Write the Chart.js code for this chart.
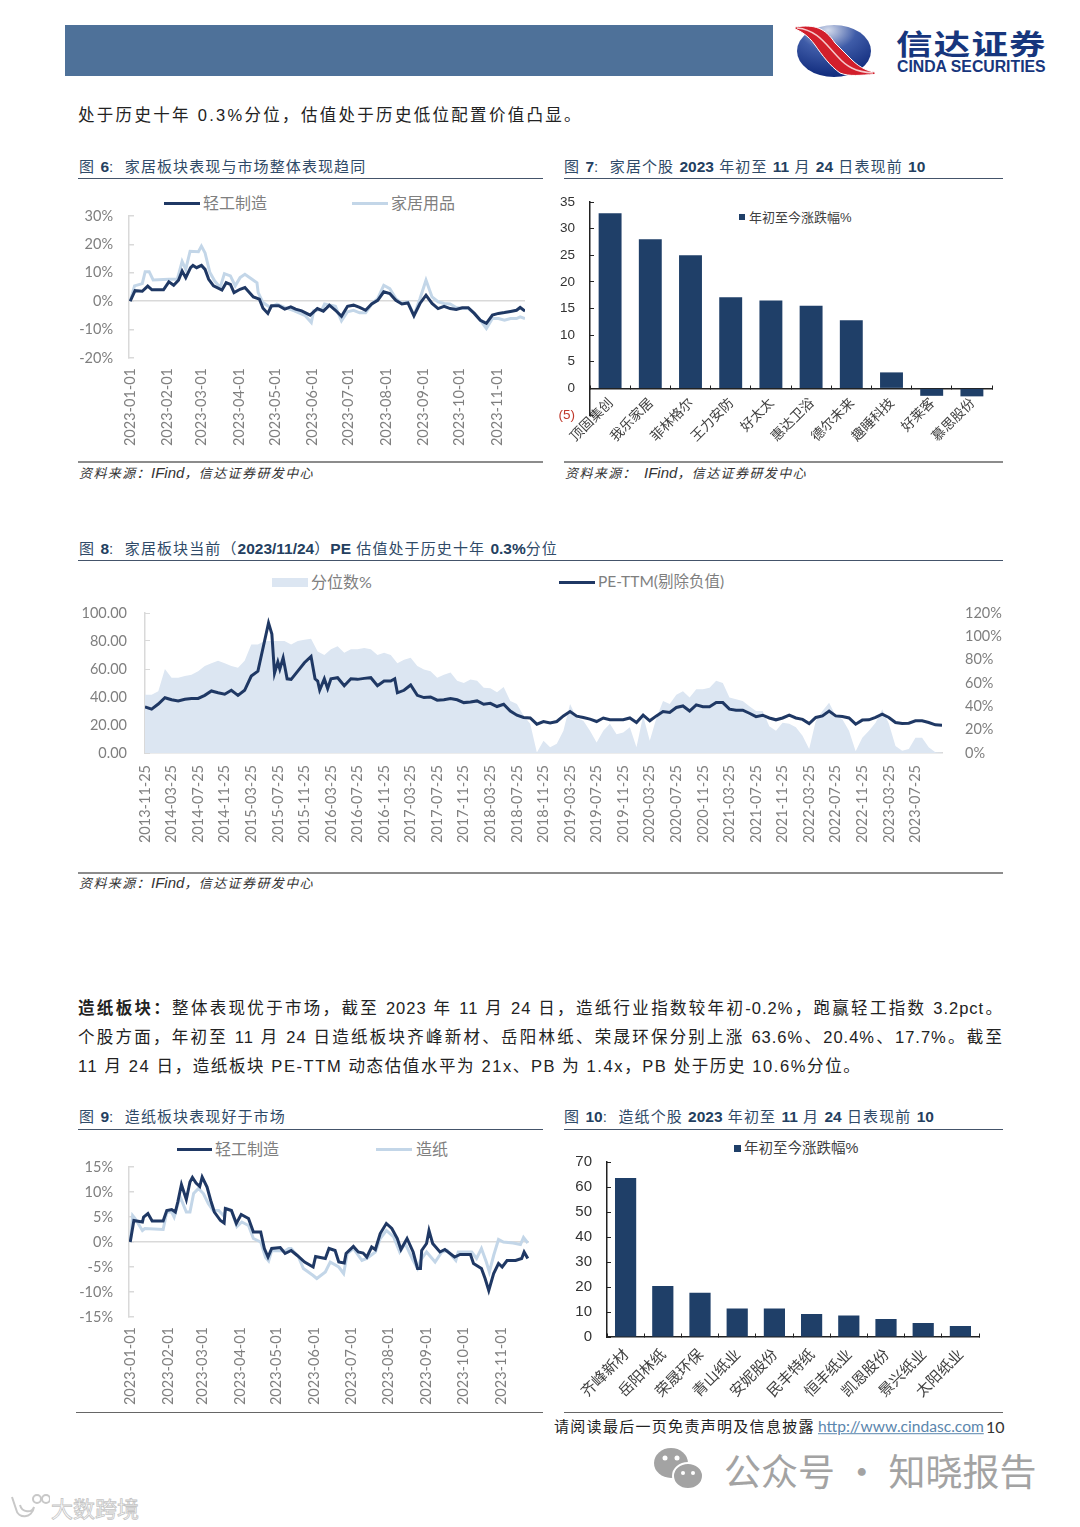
<!DOCTYPE html>
<html>
<head>
<meta charset="utf-8">
<script src="https://cdn.jsdelivr.net/npm/chart.js@4/dist/chart.umd.min.js"></script>
<style>
  html, body { margin: 0; padding: 0; background: #fff; }
  #page { position: relative; width: 1080px; height: 1527px; overflow: hidden; font-family: "Liberation Sans", "Noto Sans CJK SC", sans-serif; }
  canvas { position: absolute; }
  .t { position: absolute; white-space: nowrap; line-height: 1; transform: translateY(-50%); }
  .title { font-size: 15px; letter-spacing: 1.1px; color: #2f4a68; }
  .title b { font-size: 15.5px; letter-spacing: 0; color: #243f60; }
  .src { font-size: 13px; letter-spacing: 1.4px; font-style: italic; color: #333; }
  .src span { font-size: 15px; letter-spacing: 0; }
  .body { font-size: 16.5px; letter-spacing: 2.3px; color: #222; }
  .just { width: 925px; white-space: normal; text-align: justify; text-align-last: justify; letter-spacing: 1px; }
  .leg { font-family: "Lato", "Noto Sans CJK SC", sans-serif; font-size: 16px; color: #7f7f7f; }
  .legb { font-size: 13px; color: #404040; }
  .r { position: absolute; }
</style>
</head>
<body>
<div id="page">
  <div class="r" style="left:65px;top:25px;width:708px;height:51px;background:#4e7199"></div>
  <svg class="r" style="left:790px;top:20px" width="90" height="62" viewBox="790 20 90 62">
    <defs>
      <radialGradient id="logoBlue" cx="0.42" cy="0.1" r="0.85">
        <stop offset="0" stop-color="#d5dcec"/>
        <stop offset="0.45" stop-color="#3f5ca8"/>
        <stop offset="1" stop-color="#142f80"/>
      </radialGradient>
    </defs>
    <ellipse cx="834" cy="51" rx="37" ry="26" fill="url(#logoBlue)"/>
    <path d="M795 27 C815 24 825 28 835 43 L852 60 C860 68 870 72 875 72 L875 74.5 C860 75 850 77 840 73 C830 66 822 55 815 45 C808 35 800 31 795 29 Z" fill="#d21f2c" stroke="#fff" stroke-width="1"/>
    <path d="M797 28 C818 30 826 45 838 57 C846 66 855 72 873 73" fill="none" stroke="#f6c9cb" stroke-width="1.5"/>
  </svg>
  <div class="t" style="left:896px;top:46px;font-size:28px;font-weight:700;color:#17367d;letter-spacing:1px;transform:translateY(-50%) scaleX(1.3);transform-origin:left center">信达证券</div>
  <div class="t" style="left:897px;top:66.5px;font-size:15.8px;font-weight:700;color:#17367d">CINDA SECURITIES</div>

  <div class="t body" style="left:78px;top:115px">处于历史十年 0.3%分位&#xFF0C;估值处于历史低位配置价值凸显。</div>

  <div class="t title" style="left:79px;top:167px">图 <b>6</b>:&nbsp; 家居板块表现与市场整体表现趋同</div>
  <div class="r" style="left:78px;top:178px;width:465px;height:1px;background:#44546a"></div>
  <div class="r" style="left:164px;top:202px;width:36px;height:3px;background:#1f3864"></div>
  <div class="t leg" style="left:203px;top:203px">轻工制造</div>
  <div class="r" style="left:352px;top:202px;width:36px;height:3px;background:#c3d6e8"></div>
  <div class="t leg" style="left:391px;top:203px">家居用品</div>
  <div class="r" style="left:78px;top:461px;width:465px;height:2px;background:#8c8c8c"></div>
  <div class="t src" style="left:79px;top:472px">资料来源&#xFF1A;<span>IFind</span>&#xFF0C;信达证券研发中心</div>

  <div class="t title" style="left:564px;top:167px">图 <b>7</b>:&nbsp; 家居个股 <b>2023</b> 年初至 <b>11</b> 月 <b>24</b> 日表现前 <b>10</b></div>
  <div class="r" style="left:564px;top:178px;width:439px;height:1px;background:#44546a"></div>
  <div class="r" style="left:739px;top:214px;width:6px;height:6px;background:#1f3f68"></div>
  <div class="t legb" style="left:749px;top:217px">年初至今涨跌幅%</div>
  <div class="r" style="left:564px;top:461px;width:439px;height:2px;background:#8c8c8c"></div>
  <div class="t src" style="left:565px;top:472px">资料来源&#xFF1A;<span style="margin-left:7px">IFind</span>&#xFF0C;信达证券研发中心</div>

  <div class="t title" style="left:79px;top:549px">图 <b>8</b>:&nbsp; 家居板块当前&#xFF08;<b>2023/11/24</b>&#xFF09;<b>PE</b> 估值处于历史十年 <b>0.3%</b>分位</div>
  <div class="r" style="left:78px;top:560px;width:925px;height:1px;background:#44546a"></div>
  <div class="r" style="left:272px;top:578px;width:36px;height:9px;background:#dce6f2"></div>
  <div class="t leg" style="left:311px;top:582px">分位数%</div>
  <div class="r" style="left:559px;top:581px;width:36px;height:3px;background:#1f3864"></div>
  <div class="t leg" style="left:598px;top:582px;font-size:15.5px">PE-TTM(剔除负值)</div>
  <div class="r" style="left:78px;top:872px;width:925px;height:2px;background:#8c8c8c"></div>
  <div class="t src" style="left:79px;top:882px">资料来源&#xFF1A;<span>IFind</span>&#xFF0C;信达证券研发中心</div>

  <div class="t body just" style="left:78px;top:1008px"><b>造纸板块&#xFF1A;</b>整体表现优于市场&#xFF0C;截至 2023 年 11 月 24 日&#xFF0C;造纸行业指数较年初-0.2%&#xFF0C;跑赢轻工指数 3.2pct。</div>
  <div class="t body just" style="left:78px;top:1037px">个股方面&#xFF0C;年初至 11 月 24 日造纸板块齐峰新材、岳阳林纸、荣晟环保分别上涨 63.6%、20.4%、17.7%。截至</div>
  <div class="t body" style="left:78px;top:1066px;letter-spacing:1.6px">11 月 24 日&#xFF0C;造纸板块 PE-TTM 动态估值水平为 21x、PB 为 1.4x&#xFF0C;PB 处于历史 10.6%分位。</div>

  <div class="t title" style="left:79px;top:1117px">图 <b>9</b>:&nbsp; 造纸板块表现好于市场</div>
  <div class="r" style="left:78px;top:1129px;width:465px;height:1px;background:#44546a"></div>
  <div class="r" style="left:177px;top:1148px;width:35px;height:3px;background:#1f3864"></div>
  <div class="t leg" style="left:215px;top:1149px">轻工制造</div>
  <div class="r" style="left:376px;top:1148px;width:36px;height:3px;background:#c3d6e8"></div>
  <div class="t leg" style="left:416px;top:1149px">造纸</div>
  <div class="r" style="left:76px;top:1412px;width:467px;height:1px;background:#666"></div>

  <div class="t title" style="left:564px;top:1117px">图 <b>10</b>:&nbsp; 造纸个股 <b>2023</b> 年初至 <b>11</b> 月 <b>24</b> 日表现前 <b>10</b></div>
  <div class="r" style="left:564px;top:1129px;width:439px;height:1px;background:#44546a"></div>
  <div class="r" style="left:734px;top:1145px;width:7px;height:7px;background:#1f3f68"></div>
  <div class="t legb" style="left:744px;top:1148px;font-size:14.5px">年初至今涨跌幅%</div>
  <div class="r" style="left:564px;top:1412px;width:439px;height:1px;background:#666"></div>

  <div class="t" style="left:554px;top:1426px;font-size:15px;letter-spacing:1.3px;color:#222">请阅读最后一页免责声明及信息披露</div>
  <div class="t" style="left:818px;top:1427px;font-family:Lato;font-size:15.6px;color:#5b86ad;text-decoration:underline">http://www.cindasc.com</div>
  <div class="t" style="left:986px;top:1427px;font-family:Lato;font-size:16px;color:#333">10</div>

  <svg class="r" style="left:650px;top:1445px" width="60" height="50">
    <ellipse cx="21" cy="18" rx="17" ry="15" fill="#a3a3a3"/>
    <ellipse cx="38" cy="31" rx="15" ry="13" fill="#a3a3a3" stroke="#fff" stroke-width="2"/>
    <circle cx="15" cy="13" r="2.5" fill="#fff"/><circle cx="27" cy="13" r="2.5" fill="#fff"/>
    <circle cx="33" cy="28" r="2" fill="#fff"/><circle cx="43" cy="28" r="2" fill="#fff"/>
  </svg>
  <div class="t" style="left:724px;top:1470px;font-family:'Noto Sans CJK SC';font-size:37px;color:#a3a3a3">公众号 · 知晓报告</div>
  <svg class="r" style="left:8px;top:1493px" width="42" height="28" fill="none" stroke="#c8c8c8" stroke-width="2">
    <path d="M4 4 L8 16 C10 26 24 26 26 14 C24 20 14 20 12 12"/>
    <circle cx="29" cy="6" r="4"/><circle cx="38" cy="6" r="4"/>
  </svg>
  <div class="t" style="left:51px;top:1507px;font-family:'Noto Sans CJK SC';font-size:22px;color:#fff;-webkit-text-stroke:0.8px #c4c4c4">大数跨境</div>

  <canvas id="c6"></canvas>
  <canvas id="c7"></canvas>
  <canvas id="c8"></canvas>
  <canvas id="c9"></canvas>
  <canvas id="c10"></canvas>
</div>

<script>
// shared month ticks, x is days since 2023-01-01
const monthDays = [0, 31, 59, 90, 120, 151, 181, 212, 243, 273, 304];
const monthLabels = ['2023-01-01', '2023-02-01', '2023-03-01', '2023-04-01', '2023-05-01', '2023-06-01', '2023-07-01', '2023-08-01', '2023-09-01', '2023-10-01', '2023-11-01'];

// fig 6
const darkDays6 = [0, 4, 10, 14.5, 18, 27.6, 32, 36, 40, 43, 46, 50, 52, 55, 59, 62, 65, 69, 76, 79.5, 83, 86, 91, 95, 102, 107, 110, 114, 117, 123, 128, 133, 137, 142, 149, 155, 160, 165, 170, 175, 180, 185, 190, 195, 200, 205, 210, 215, 220, 225, 230, 235, 240, 245, 250, 255, 260, 265, 270, 275, 280, 285, 290, 295, 300, 305, 310, 315, 320, 323, 327];
const lightIndustry6 = [0, 3.7, 3.5, 5.3, 4, 4, 6.8, 5.6, 7.4, 10.6, 8.3, 11.8, 12.6, 11.8, 12.6, 11.2, 7.7, 5.4, 3.9, 6.5, 5.9, 3, 4.2, 4.8, 1.5, 0.7, -2.5, -4.3, -1.6, -1.6, -2.8, -2, -2.8, -3.4, -4.9, -2.6, -3.5, -1.4, -3.2, -5.3, -1.8, -1.4, -2.2, -3.2, -1, 0.3, 3.3, 2.7, 0.3, -1, -0.6, -5.1, -0.8, 2.1, -0.8, -2.6, -1.8, -2.6, -2.9, -2.3, -2.3, -4.3, -6.7, -7.8, -4.9, -4.3, -4, -3.6, -3.2, -2.2, -3.5];
const paleDays6 = [0, 3.6, 10, 12.4, 15.7, 19, 32, 39, 43, 46, 49.6, 56.5, 59, 62, 66, 70, 74.5, 78, 83, 87, 91, 95, 100, 105, 106, 110, 116, 121.5, 128, 136, 145, 150, 152, 159, 161, 168, 170, 175, 180, 185, 190, 195, 200, 205, 210, 215, 220, 225, 230, 235, 240, 245, 250, 255, 260, 265, 270, 275, 280, 285, 290, 295, 300, 305, 310, 315, 320, 323, 327];
const household6 = [0, 5.4, 6.2, 10.4, 10.4, 7.5, 7.7, 7.7, 14, 11.2, 17.6, 17.4, 19.4, 17, 10.1, 7.1, 4.8, 9.7, 8.9, 5.4, 8.3, 9.5, 8, 6.5, 3, -0.5, -2.2, -1, -2.2, -3.4, -5.1, -7.5, -3.4, -2.8, -1, -1.6, -1.8, -6.9, -3.7, -3.2, -4.1, -4.1, -1, 0.9, 5.6, 4.4, 0.9, -0.8, -0.2, -5.1, 0.9, 7.4, 1.5, -0.2, -0.8, -1, -2.2, -2.6, -2.6, -4.3, -6.7, -9.6, -6.1, -6.1, -6.7, -6.1, -6.1, -5.5, -6.1];

// fig 9
const darkDays9 = [0, 3, 10, 11, 14.5, 18, 27, 30, 34, 37, 39, 42, 46, 49, 51, 54, 57, 59, 63, 66, 69, 74, 77, 78, 83, 87, 91, 97, 101, 107, 110, 113, 116, 123, 127, 132, 137, 143, 150, 152, 160, 163, 168, 171, 175.5, 177, 183, 187, 191, 194, 198, 201, 205, 210, 214.5, 219, 222, 227, 232, 235.6, 238, 239, 243, 245, 248, 254, 258, 266, 270.5, 279, 281.5, 288, 291, 294, 298, 302, 305, 309, 316, 321, 323, 326];
const lightIndustry9 = [0, 4.3, 4, 5, 5.7, 4.2, 4.2, 6.3, 6.5, 6, 8, 11.5, 8.5, 12, 12.9, 11.8, 11.1, 13, 11, 8.3, 6, 4.3, 3.8, 6.7, 6.3, 3.7, 5.5, 4.7, 2, 2, -1.3, -3, -1.3, -1.1, -2.3, -1.7, -2.7, -4, -5, -2.9, -3.3, -1.3, -1.7, -4, -4.2, -2.3, -0.9, -2, -2.2, -3, -1, -1.5, 1.7, 3.7, 2.7, 0.7, -1.5, 0.7, -2, -5.3, -5.3, -1.7, -0.3, 2.3, -0.3, -2, -1.5, -3, -2.5, -2.5, -4.3, -5.3, -7.3, -9.7, -6.3, -4.3, -5, -3.7, -3.7, -3.3, -2, -3.3];
const paleDays9 = [0, 2, 4, 10, 12, 27, 30, 34, 36, 39.6, 41, 46, 49, 52, 56, 60, 64, 68, 72.5, 76.5, 79, 83, 87.5, 91.5, 97, 101, 107, 111, 113.5, 116, 127, 130, 132, 138, 142, 150, 153, 160, 164, 171, 175, 178, 183, 190, 194, 201, 205, 210, 216, 221, 225.5, 232, 235.6, 238, 243, 250, 255.5, 260, 267, 269, 280, 284, 288, 292, 294.5, 298, 302, 306, 314, 320, 322.5, 326];
const paper9 = [0, 5.3, 4.7, 2.3, 2.7, 2.5, 6, 6, 5, 8, 9, 6, 6, 9.7, 10.7, 9.7, 7.7, 6.3, 6.3, 5.3, 6.7, 6.3, 3.1, 4, 3.3, 0.7, 0, -3.1, -3.8, -1.7, -1.8, -1.3, -1.3, -3, -5.3, -6.7, -7.3, -6, -4, -5, -6.3, -2.3, -1.3, -3.7, -3.3, -2, 0.7, 2.3, 1, -2, -0.3, -3.7, -5.3, -3.7, -2, -4, -2, -1.7, -3.7, -2, -2, -3.3, -1.3, -4, -6, -2.7, 0.5, 0, -0.2, -0.5, 0.9, -0.2];

// fig 7
const stocks7 = ['顶固集创', '我乐家居', '菲林格尔', '王力安防', '好太太', '惠达卫浴', '德尔未来', '趣睡科技', '好莱客', '慕思股份'];
const change7 = [32.9, 28, 25, 17.1, 16.5, 15.5, 12.8, 3, -1.4, -1.5];

// fig 10
const stocks10 = ['齐峰新材', '岳阳林纸', '荣晟环保', '青山纸业', '安妮股份', '民丰特纸', '恒丰纸业', '凯恩股份', '景兴纸业', '太阳纸业'];
const change10 = [63.6, 20.4, 17.7, 11.4, 11.4, 9.2, 8.6, 7.2, 5.6, 4.4];

// fig 8, x counts months from 2013-11-25
const peLabels = ['2013-11-25', '2014-03-25', '2014-07-25', '2014-11-25', '2015-03-25', '2015-07-25', '2015-11-25', '2016-03-25', '2016-07-25', '2016-11-25', '2017-03-25', '2017-07-25', '2017-11-25', '2018-03-25', '2018-07-25', '2018-11-25', '2019-03-25', '2019-07-25', '2019-11-25', '2020-03-25', '2020-07-25', '2020-11-25', '2021-03-25', '2021-07-25', '2021-11-25', '2022-03-25', '2022-07-25', '2022-11-25', '2023-03-25', '2023-07-25'];
const peMonths = [0, 1, 2, 3, 4, 5, 6, 7, 8, 9, 10, 11, 12, 13, 14, 15, 16, 17, 18, 18.6, 19.1, 19.5, 20, 20.3, 20.8, 21.4, 22, 23, 24, 25, 25.6, 26, 26.3, 27, 27.5, 28, 29, 30, 31, 32, 33, 34, 35, 36, 37, 37.6, 38, 39, 40, 41, 42, 43, 44, 45, 46, 47, 48, 49, 50, 51, 52, 53, 54, 55, 56, 57, 58, 59, 60, 61, 62, 63, 64, 65, 66, 67, 68, 69, 70, 71, 72, 73, 74, 75, 76, 77, 78, 79, 80, 81, 82, 83, 84, 85, 86, 87, 88, 89, 90, 91, 92, 93, 94, 95, 96, 97, 98, 99, 100, 101, 102, 103, 104, 105, 106, 107, 108, 109, 110, 111, 112, 113, 114, 115, 116, 117, 118, 119, 120];
const peTtm = [33, 31.3, 35, 39.5, 38, 37.2, 38.4, 39, 39, 41.2, 44.3, 43, 42, 44.8, 41.2, 44.8, 55, 58.5, 80, 92.9, 85, 57, 65, 60, 68, 53, 52.6, 58.5, 64.5, 69, 53, 51.4, 45, 53, 46, 53, 53.8, 48, 53, 52.6, 53.3, 53.8, 48, 51.4, 51.4, 53, 43, 44.8, 48.6, 41.2, 39.6, 40, 37.7, 38, 38.9, 38, 36, 36.5, 37.2, 34.8, 35.5, 33.2, 34.8, 30, 27, 25.4, 25, 20.6, 22.5, 21.5, 22.5, 26.5, 29.6, 26.3, 25.4, 24.2, 22.5, 25, 23.7, 23.7, 23.7, 25, 21.8, 27, 23, 26.5, 29.6, 29, 32.5, 33.6, 30, 34.4, 33, 33, 36, 36, 31.3, 30.6, 30.6, 28.4, 26, 27, 25, 23.7, 25, 27, 25, 24, 21, 25.4, 26.5, 30, 26.5, 26, 25, 20.6, 23.5, 23.7, 25.4, 27.7, 25.4, 21.8, 21, 21.3, 23, 23, 21.8, 20.1, 19.9];
const percentile = [50, 50, 53, 72, 64.5, 64.5, 66, 67, 70, 74.5, 77, 79, 77, 74.5, 73, 79, 93, 93, 96, 96, 96, 96, 93, 96, 97, 98, 87, 84, 89, 91.5, 86, 89, 89, 90, 89, 84, 86, 84, 77, 80, 81.6, 74.5, 71.6, 70, 64.5, 67, 69, 62, 60, 63, 62, 56, 55.4, 52, 56.6, 44.6, 42, 32, 25, 0.5, 10.5, 5, 8, 19, 42, 30, 27.6, 19, 9, 19, 25, 16, 17.6, 22, 5, 32, 10.5, 30, 44.6, 42, 50, 53, 47.5, 54.6, 54.6, 56, 62, 60, 47.5, 46, 44.6, 40, 36, 36, 23, 19, 26, 25, 22, 14.8, 3.4, 27.6, 36, 43, 32, 29, 19, 1.4, 13, 19, 26, 37.5, 25, 6, 2, 3.4, 13, 13, 5, 0.6, 0.3];

const tickFont = { family: 'Lato', size: 14.5 };
const greyText = '#7f7f7f';
const axisGrey = '#d9d9d9';
const darkLine = '#1f3864';
const paleLine = '#c3d6e8';
const barColor = '#1f3f68';

// put a canvas so the plot area lands on the given page box
function placeCanvas(id, plot, margin) {
    const canvas = document.getElementById(id);
    canvas.width = margin.left + (plot.right - plot.left) + margin.right;
    canvas.height = margin.top + (plot.bottom - plot.top) + margin.bottom;
    canvas.style.left = (plot.left - margin.left) + 'px';
    canvas.style.top = (plot.top - margin.top) + 'px';
    return canvas.getContext('2d');
}

function toPoints(xs, ys) {
    return xs.map((x, i) => ({ x: x, y: ys[i] }));
}

// chart.js adds tick padding to the vertical scale's top and bottom, drop it
function fixYScale(scale, width) {
    scale.width = width;
    scale.paddingTop = 0;
    scale.paddingBottom = 0;
}

function lineChart(id, plot, darkPts, palePts, yMin, yMax, yStep) {
    const margin = { left: 60, top: 8, right: 8, bottom: 95 };
    new Chart(placeCanvas(id, plot, margin), {
        type: 'line',
        data: {
            datasets: [
                { data: darkPts, borderColor: darkLine, borderWidth: 3, pointRadius: 0, tension: 0 },
                { data: palePts, borderColor: paleLine, borderWidth: 3, pointRadius: 0, tension: 0 }
            ]
        },
        options: {
            responsive: false,
            animation: false,
            layout: { padding: { top: margin.top, right: margin.right } },
            plugins: { legend: { display: false }, tooltip: { enabled: false } },
            scales: {
                x: {
                    type: 'linear',
                    min: -1,
                    max: 327,
                    afterBuildTicks: s => { s.ticks = monthDays.map(v => ({ value: v })); },
                    afterFit: s => { s.height = margin.bottom; },
                    border: { display: false },
                    grid: { display: false },
                    ticks: {
                        autoSkip: false,
                        minRotation: 90,
                        maxRotation: 90,
                        padding: 2,
                        font: tickFont,
                        color: greyText,
                        callback: v => monthLabels[monthDays.indexOf(v)]
                    }
                },
                y: {
                    min: yMin,
                    max: yMax,
                    afterFit: s => fixYScale(s, margin.left),
                    border: { color: axisGrey, width: 1.5 },
                    grid: {
                        color: c => c.tick.value === 0 ? axisGrey : 'transparent',
                        tickColor: axisGrey,
                        tickLength: -5,
                        lineWidth: 1.5
                    },
                    ticks: { stepSize: yStep, autoSkip: false, padding: 21, font: tickFont, color: greyText, callback: v => v + '%' }
                }
            }
        }
    });
}

function barChart(id, plot, names, values, yMin, yMax, yStep, fontSize, nameSize, namePad) {
    const margin = { left: 40, top: 8, right: 8, bottom: plot.extra };
    new Chart(placeCanvas(id, plot, margin), {
        type: 'bar',
        data: {
            labels: names,
            datasets: [{ data: values, backgroundColor: barColor, categoryPercentage: 1, barPercentage: 0.57 }]
        },
        options: {
            responsive: false,
            animation: false,
            layout: { padding: { top: margin.top, right: margin.right, bottom: margin.bottom } },
            plugins: { legend: { display: false }, tooltip: { enabled: false } },
            scales: {
                x: {
                    position: { y: 0 },
                    border: { color: '#222', width: 1.5 },
                    grid: { drawOnChartArea: false, tickColor: '#222', tickLength: -4 },
                    ticks: {
                        autoSkip: false,
                        minRotation: 45,
                        maxRotation: 45,
                        padding: namePad,
                        font: { family: 'Noto Sans CJK SC', size: nameSize },
                        color: '#404040'
                    }
                },
                y: {
                    min: yMin,
                    max: yMax,
                    afterFit: s => fixYScale(s, margin.left),
                    border: { color: '#222', width: 1.5 },
                    grid: { drawOnChartArea: false, tickColor: '#222', tickLength: -4 },
                    ticks: {
                        stepSize: yStep,
                        autoSkip: false,
                        padding: 19,
                        font: { family: 'Liberation Sans', size: fontSize },
                        color: c => c.tick.value < 0 ? '#c0392b' : '#333',
                        callback: v => v < 0 ? '(' + Math.abs(v) + ')' : v
                    }
                }
            }
        }
    });
}

function peChart() {
    const plot = { left: 144.5, top: 613.3, right: 941.5, bottom: 754 };
    const margin = { left: 70, top: 8, right: 60, bottom: 95 };
    const months = percentile.map((_, i) => i);
    new Chart(placeCanvas('c8', plot, margin), {
        type: 'line',
        data: {
            datasets: [
                { data: toPoints(peMonths, peTtm), yAxisID: 'y', borderColor: darkLine, borderWidth: 3, pointRadius: 0, tension: 0, order: 1 },
                { data: toPoints(months, percentile), yAxisID: 'y1', borderWidth: 0, backgroundColor: '#dce6f2', fill: 'origin', pointRadius: 0, tension: 0, order: 2 }
            ]
        },
        options: {
            responsive: false,
            animation: false,
            layout: { padding: { top: margin.top } },
            plugins: { legend: { display: false }, tooltip: { enabled: false } },
            scales: {
                x: {
                    type: 'linear',
                    min: 0,
                    max: 120,
                    afterBuildTicks: s => { s.ticks = peLabels.map((_, i) => ({ value: i * 4 })); },
                    afterFit: s => { s.height = margin.bottom; },
                    border: { color: axisGrey, width: 1.5 },
                    grid: { display: false },
                    ticks: {
                        autoSkip: false,
                        minRotation: 90,
                        maxRotation: 90,
                        padding: 4,
                        font: tickFont,
                        color: greyText,
                        callback: v => peLabels[v / 4]
                    }
                },
                y: {
                    min: 0,
                    max: 100,
                    afterFit: s => fixYScale(s, margin.left),
                    border: { color: axisGrey, width: 1.5 },
                    grid: { drawOnChartArea: false, tickColor: axisGrey, tickLength: -5 },
                    ticks: { stepSize: 20, autoSkip: false, padding: 23, font: tickFont, color: greyText, callback: v => v.toFixed(2) }
                },
                y1: {
                    position: 'right',
                    min: 0,
                    max: 120,
                    afterFit: s => fixYScale(s, margin.right),
                    border: { display: false },
                    grid: { display: false },
                    ticks: { stepSize: 20, autoSkip: false, padding: 15, font: tickFont, color: greyText, callback: v => v + '%' }
                }
            }
        }
    });
}

document.fonts.ready.then(() => {
    lineChart('c6', { left: 129, top: 215.7, right: 525.5, bottom: 358 }, toPoints(darkDays6, lightIndustry6), toPoints(paleDays6, household6), -20, 30, 10);
    lineChart('c9', { left: 129, top: 1166.7, right: 529, bottom: 1316.7 }, toPoints(darkDays9, lightIndustry9), toPoints(paleDays9, paper9), -15, 15, 5);
    barChart('c7', { left: 590, top: 201.7, right: 992, bottom: 415.5, extra: 60 }, stocks7, change7, -5, 35, 5, 13.5, 13.5, 10);
    barChart('c10', { left: 607, top: 1162.3, right: 979, bottom: 1338, extra: 72 }, stocks10, change10, 0, 70, 10, 15, 15, 12);
    peChart();
});
</script>
</body>
</html>
